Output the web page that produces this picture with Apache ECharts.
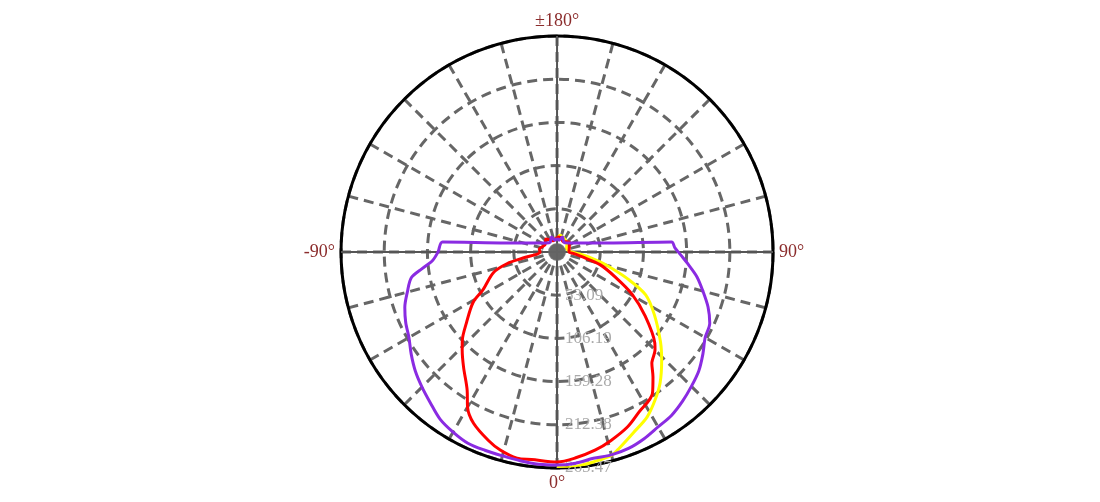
<!DOCTYPE html>
<html>
<head>
<meta charset="utf-8">
<script src="https://cdn.jsdelivr.net/npm/echarts@6/dist/echarts.min.js"></script>
<style>
html,body{margin:0;padding:0;background:#fff;}
#chart{width:1100px;height:502px;}
</style>
</head>
<body>
<div id="chart"></div>
<script>
// Angles in degrees: 0 = bottom, 90 = right, -90 = left, ±180 = top
const purpleAngles = [-180,-170,-160,-145,-130,-110,-100,-95,-90,-86,-83,-80,-75,-70,-65,-60,-55,-50,-45,-40,-35,-30,-25,-20,-15,-10,-5,0,5,10,15,20,25,30,35,40,45,50,55,60,65,70,75,80,85,88,92,95,100,110,130,145,160,170,180];
const purpleValues = [17.2,14.7,19.7,14.7,17.2,32.3,63.9,141.3,146.3,153.6,167.1,181.9,190.5,199.1,205.2,210.2,218.8,227.4,234.7,242.1,250.7,255.6,259.3,259.3,259.3,260.5,261.8,261.8,260.5,257.5,258.1,256.9,253.2,248.3,245.2,239.7,233.5,227.4,218.8,210.2,207.1,197.5,185.6,174.5,161.0,153.6,145.0,141.3,63.9,32.3,17.2,14.7,19.7,14.7,17.2];

const redAngles = [-180,-160,-140,-120,-100,-90,-80,-77,-72,-63,-59,-52,-47,-44,-39,-33,-30,-26,-20,-16,-11,-7,0,5,11,16,22,27,34,37.5,40.5,41.5,45,47,54,60.6,66.7,73.6,79,85,90,110,130,150,165,180];
const redValues = [18.4,14.7,20.9,17.2,22.1,20.9,42.4,62.7,82.3,102.0,120.4,141.3,159.2,167.8,182.5,202.8,220.0,234.1,246.5,253.2,258.1,256.9,258.1,254.2,247.8,240.9,231.7,221.2,209.7,193.7,179.4,177.0,170.3,164.3,134.0,106.0,78.0,55.0,32.0,20.0,14.7,16.0,19.7,14.7,18.4,18.4];

const yellowAngles = [0,3,6,10,15,17,18,23,28.6,33.5,38.2,44,49,57.3,64.2,69,75,80,85,90,110,130,150,170,180];
const yellowValues = [264.2,265.47,264.2,261.8,258.7,254.4,252.0,240.9,231.1,218.2,204.8,185.1,168.5,142.0,121.0,94.0,63.0,43.0,28.0,18.0,12.3,16.0,18.4,20.9,14.7];

const radiusMax = 265.47;
const radiusTickLabels = ['', '53.09', '106.19', '159.28', '212.38', '265.47'];
const angleLabelValues = [0, 90, 180, 270];
const angleLabelTexts = ['0°', '90°', '±180°', '-90°'];

function toAxisAngle(a){ return ((a % 360) + 360) % 360; }
function build(angles, values){ return angles.map((a,i)=>[values[i], toAxisAngle(a)]); }

const chart = echarts.init(document.getElementById('chart'), null, {renderer:'canvas'});
const serif = 'Liberation Serif, Times New Roman, serif';
const radiusInterval = radiusMax / 5;

chart.setOption({
  animation:false,
  backgroundColor:'#fff',
  polar:{ center:['50.64%','50.2%'], radius:216 },
  angleAxis:{
    type:'value', min:0, max:360, interval:15, startAngle:-90, clockwise:false,
    axisLine:{ show:true, lineStyle:{ color:'#000', width:3 } },
    axisTick:{ show:false },
    splitLine:{ show:true, lineStyle:{ color:'#666', width:3, type:[10,6] } },
    axisLabel:{
      show:true, color:'#8b2c2c', fontFamily:serif, fontSize:18, margin:6,
      formatter:function(v){ const i = angleLabelValues.indexOf(v); return i>=0 ? angleLabelTexts[i] : ''; }
    }
  },
  radiusAxis:{
    type:'value', min:0, max:radiusMax, interval:radiusInterval,
    axisLine:{ show:true, lineStyle:{ color:'#555', width:2 } },
    axisTick:{ show:false },
    splitLine:{ show:true, lineStyle:{ color:'#666', width:3, type:[10,6] } },
    axisLabel:{
      show:true, color:'#aaa', fontFamily:serif, fontSize:17, margin:8,
      formatter:function(v){ const i = Math.round(v / radiusInterval); return radiusTickLabels[i] || ''; }
    }
  },
  series:[
    { type:'line', coordinateSystem:'polar', silent:true, symbol:'none', z:1,
      lineStyle:{ color:'#555', width:2 }, data:[[radiusMax,0],[radiusMax,180]] },
    { type:'line', coordinateSystem:'polar', silent:true, symbol:'none', z:1,
      lineStyle:{ color:'#555', width:2 }, data:[[radiusMax,90],[radiusMax,270]] },
    { name:'yellow', type:'line', coordinateSystem:'polar', symbol:'none', smooth:0.3, z:3,
      lineStyle:{ color:'#ffff00', width:3 }, data:build(yellowAngles, yellowValues) },
    { name:'red', type:'line', coordinateSystem:'polar', symbol:'none', smooth:0.3, z:4,
      lineStyle:{ color:'#ff0000', width:3 }, data:build(redAngles, redValues) },
    { name:'purple', type:'line', coordinateSystem:'polar', symbol:'none', smooth:0.3, z:5,
      lineStyle:{ color:'#8a2be2', width:3 }, data:build(purpleAngles, purpleValues) },
    { type:'scatter', coordinateSystem:'polar', silent:true, symbol:'circle', symbolSize:18, z:10,
      itemStyle:{ color:'#666' }, data:[[0,0]] }
  ]
});
</script>
</body>
</html>
